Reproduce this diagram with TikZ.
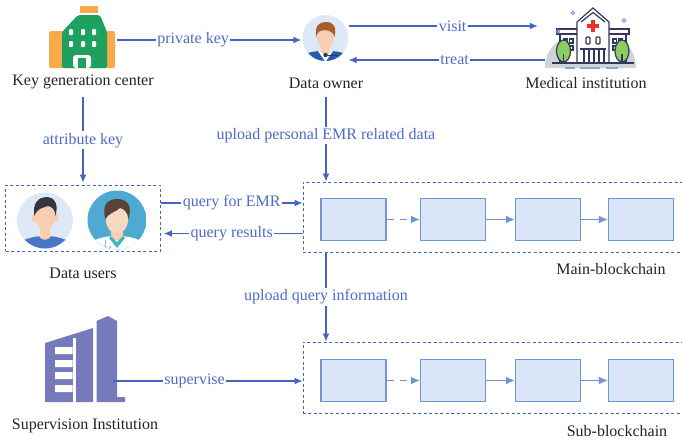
\documentclass[tikz,border=0pt]{standalone}
\usepackage{fontspec}
\setmainfont{Liberation Serif}
\usetikzlibrary{arrows.meta,positioning}

\definecolor{linkblue}{RGB}{66,100,190}
\definecolor{tagblue}{RGB}{78,108,198}
\definecolor{blockfill}{RGB}{218,230,248}
\definecolor{blockdraw}{RGB}{112,150,210}
\definecolor{captiongray}{RGB}{35,35,35}
\definecolor{kgcorange}{RGB}{248,170,75}
\definecolor{kgcgreen}{RGB}{30,160,95}
\definecolor{facebg}{RGB}{221,233,246}
\definecolor{skin}{RGB}{247,206,176}
\definecolor{hairbrown}{RGB}{168,92,42}
\definecolor{hairdark}{RGB}{52,56,62}
\definecolor{shirtblue}{RGB}{38,92,172}
\definecolor{teebue}{RGB}{72,120,196}
\definecolor{doctorbg}{RGB}{78,170,210}
\definecolor{scrubteal}{RGB}{60,185,190}
\definecolor{domegray}{RGB}{208,211,218}
\definecolor{navy}{RGB}{52,56,92}
\definecolor{crossred}{RGB}{232,50,50}
\definecolor{treegreen}{RGB}{140,205,95}
\definecolor{dotblue}{RGB}{130,130,220}
\definecolor{supervpurple}{RGB}{118,122,188}

\tikzset{
  link/.style={draw=linkblue, line width=1.3pt, -{Latex[length=8pt,width=7pt]}},
  tag/.style={fill=white, text=tagblue, inner sep=1.5pt},
  caption/.style={text=captiongray, inner sep=1pt},
  groupbox/.style={draw=linkblue, line width=0.9pt, dash pattern=on 3pt off 2.5pt, inner sep=0pt},
  block/.style={draw=blockdraw, fill=blockfill, line width=1.1pt, minimum width=65pt, minimum height=42pt, inner sep=0pt},
  chainlink/.style={draw=blockdraw, line width=1.8pt, -{Latex[length=9pt,width=8pt]}},
  icon/.style={inner sep=0pt},
}

\begin{document}
\begin{tikzpicture}[x=1pt,y=1pt,yscale=-1,font=\fontsize{16}{19}\selectfont]
\useasboundingbox (0,0) rectangle (682,442);
\clip (0,0) rectangle (682,442);

% key generation center icon
\fill[kgcorange, rounded corners=2pt] (49,31) rectangle (115,68);
\fill[kgcorange] (80,6) rectangle (98,13);
\fill[kgcgreen, rounded corners=2pt] (62,68) -- (62,32) -- (78,15) -- (100,15) -- (107,32) -- (107,68) -- cycle;
\fill[white, rounded corners=1pt] (69,29) rectangle (73,35) (81,29) rectangle (85,35) (92,29) rectangle (96,35);
\fill[white, rounded corners=1pt] (69,41) rectangle (73,47) (81,41) rectangle (85,47) (92,41) rectangle (96,47);
\fill[white, rounded corners=3pt] (73,68) -- (73,55) -- (91,55) -- (91,68) -- cycle;
\fill[kgcgreen] (78,58) rectangle (86,68);
\node[icon, minimum width=68pt, minimum height=56pt] (kgc) at (83,41) {};
\node[caption] (kgclabel) at (83,82) {Key generation center};

% data owner icon
\begin{scope}
  \clip (325.5,38) circle [radius=23];
  \fill[facebg] (325.5,38) circle [radius=23];
  \fill[skin] (321,44) rectangle (330,56);
  \fill[shirtblue] (298,66) -- (302,56) .. controls (310,51) and (318,51) .. (325.5,51) .. controls (333,51) and (341,51) .. (349,56) -- (353,66) -- cycle;
  \fill[white] (318,51) -- (325.5,62) -- (333,51) -- cycle;
  \fill[skin] (320,51) -- (325.5,57) -- (331,51) -- cycle;
\end{scope}
\fill[skin] (325.5,38) ellipse [x radius=8.5, y radius=10];
\fill[hairbrown] (316.5,37) .. controls (314,25) and (320,22) .. (326,22) .. controls (333,22) and (337,26) .. (334.5,37) .. controls (333,30) and (325,29) .. (320,31) .. controls (318,32) and (317,34) .. (316.5,37) -- cycle;
\fill[navy] (325.5,55) circle [radius=2.2];
\draw[navy, line width=0.8pt] (325.5,55) -- (338,55);
\node[icon, circle, minimum size=46pt] (owner) at (325.5,38) {};
\node[caption] (ownerlabel) at (326,83) {Data owner};

% medical institution icon
\fill[domegray] (545,68) .. controls (545,44) and (566,32) .. (590.5,32) .. controls (615,32) and (636,44) .. (636,68) -- cycle;
\begin{scope}[draw=navy, line width=1.2pt]
  \filldraw[fill=white] (560,63) rectangle (626,34);
  \filldraw[fill=white] (557,29) rectangle (629,34);
  \filldraw[fill=white] (577,63) -- (577,22) -- (593,8) -- (609,22) -- (609,63) -- cycle;
  \draw (581,22) -- (593,12.5) -- (605,22);
  \draw (564,39) rectangle (567.5,43) (569.5,39) rectangle (573,43) (564,46) rectangle (567.5,50) (569.5,46) rectangle (573,50);
  \draw (613,39) rectangle (616.5,43) (618.5,39) rectangle (622,43) (613,46) rectangle (616.5,50) (618.5,46) rectangle (622,50);
  \draw[rounded corners=1pt] (586,37) rectangle (590,44) (596,37) rectangle (600,44);
  \draw (580,49) -- (606,49);
  \draw (584,49) -- (584,63) (589,49) -- (589,63) (594,49) -- (594,63) (599,49) -- (599,63) (604,49) -- (604,63);
  \draw (552,63) -- (634,63);
  \filldraw[fill=treegreen] (563.5,51) ellipse [x radius=7, y radius=11];
  \filldraw[fill=treegreen] (622,51) ellipse [x radius=7, y radius=11];
  \draw (563.5,54) -- (563.5,63) (622,54) -- (622,63);
\end{scope}
\fill[crossred] (590.5,20) rectangle (594.5,32);
\fill[crossred] (586.5,24) rectangle (598.5,28);
\draw[linkblue!60, line width=1.2pt] (565,68) -- (575,68) (580,68) -- (600,68) (606,68) -- (618,68);
\draw[dotblue, line width=0.8pt] (573,13) circle [radius=1.8] (558,31.5) circle [radius=1.8] (624,20.5) circle [radius=1.8];
\node[icon, minimum width=91pt, minimum height=64pt] (hospital) at (590.5,37) {};
\node[caption] (hospitallabel) at (586,83) {Medical institution};

% data users
\node[groupbox, minimum width=155pt, minimum height=66pt] (users) at (83,218) {};
\begin{scope}
  \clip (45,220.5) circle [radius=28];
  \fill[facebg] (45,220.5) circle [radius=28];
  \fill[skin] (40,226) rectangle (50,240);
  \fill[teebue] (14,252) -- (18,243) .. controls (28,237) and (38,236) .. (45,236) .. controls (52,236) and (62,237) .. (72,243) -- (76,252) -- cycle;
  \fill[skin] (39,236) .. controls (41,241) and (49,241) .. (51,236) -- cycle;
\end{scope}
\fill[skin] (45,217) ellipse [x radius=10, y radius=13];
\fill[skin] (34,218) ellipse [x radius=2.5, y radius=4] (56,218) ellipse [x radius=2.5, y radius=4];
\fill[hairdark] (34.5,216) .. controls (32,203) and (39,197) .. (46,197) .. controls (54,197) and (59,203) .. (55.5,216) .. controls (55,209) and (52,207) .. (48,206) .. controls (43,208) and (37,208) .. (34.5,216) -- cycle;
\begin{scope}
  \clip (117,220) circle [radius=29.5];
  \fill[doctorbg] (117,220) circle [radius=29.5];
  \fill[white] (85,255) -- (88,244) .. controls (98,237) and (108,236) .. (117,236) .. controls (126,236) and (136,237) .. (146,244) -- (149,255) -- cycle;
  \fill[skin] (111,226) rectangle (123,240);
  \fill[scrubteal] (109,238) -- (117,248) -- (125,238) -- (123,236) -- (117,242) -- (111,236) -- cycle;
  \draw[gray, line width=0.6pt] (106,240) .. controls (103,248) and (108,252) .. (111,246);
\end{scope}
\fill[skin!80!white] (117,220) ellipse [x radius=11, y radius=13.5];
\fill[hairdark!70!hairbrown] (105.5,219) .. controls (101,204) and (109,199) .. (117,199) .. controls (126,199) and (133,204) .. (128.5,219) .. controls (128,212) and (124,209) .. (120,208) .. controls (116,212) and (110,212) .. (105.5,219) -- cycle;
\node[caption] (userslabel) at (83,273) {Data users};

% main blockchain
\node[groupbox, anchor=north west, minimum width=400pt, minimum height=70pt] (main) at (302.5,181.5) {};
\node[block] (m1) at (353.5,219.5) {};
\node[block] (m2) at (453,219.5) {};
\node[block] (m3) at (548,219.5) {};
\node[block] (m4) at (641,219.5) {};
\draw[chainlink, dash pattern=on 7pt off 6pt] (m1) -- (m2);
\draw[chainlink] (m2) -- (m3);
\draw[chainlink] (m3) -- (m4);
\node[caption] (mainlabel) at (611,269) {Main-blockchain};

% sub blockchain
\node[groupbox, anchor=north west, minimum width=400pt, minimum height=71pt] (sub) at (302.5,341.5) {};
\node[block] (s1) at (353.5,380.5) {};
\node[block] (s2) at (453,380.5) {};
\node[block] (s3) at (548,380.5) {};
\node[block] (s4) at (641,380.5) {};
\draw[chainlink, dash pattern=on 7pt off 6pt] (s1) -- (s2);
\draw[chainlink] (s2) -- (s3);
\draw[chainlink] (s3) -- (s4);
\node[caption] (sublabel) at (617,431) {Sub-blockchain};

% supervision institution icon
\fill[supervpurple] (45,402) -- (45,343) -- (93,328) -- (93,402) -- cycle;
\fill[white] (72.5,338) rectangle (75.5,402);
\fill[white] (55,347) rectangle (72.5,354) (55,360) rectangle (72.5,367) (55,372) rectangle (72.5,379) (55,385) rectangle (72.5,392);
\fill[supervpurple] (96.5,402) -- (96.5,321) -- (108,316) -- (117,321) -- (117,397) -- (125,397) -- (125,402) -- cycle;
\node[icon, minimum width=56pt, minimum height=86pt] (superv) at (85,359) {};
\node[caption] (supervlabel) at (85,426) {Supervision Institution};

% connectors
\coordinate (keyrow) at (0,40);
\coordinate (visitrow) at (0,26);
\coordinate (treatrow) at (0,60);
\coordinate (askrow) at (0,203);
\coordinate (replyrow) at (0,233.5);
\coordinate (superrow) at (0,381);
\draw[link, shorten >=1pt] (kgc.east |- keyrow) -- node[tag, pos=0.41] {private key} (owner.west |- keyrow);
\draw[link, shorten >=7pt] (owner.east |- visitrow) -- node[tag, pos=0.53] {visit} (hospital.west |- visitrow);
\draw[link] (hospital.west |- treatrow) -- node[tag, pos=0.46] {treat} (owner.east |- treatrow);
\draw[link, shorten <=7pt, shorten >=2pt] (kgclabel.south) -- node[tag, pos=0.53] {attribute key} (users.north);
\draw[link, shorten <=7pt] (ownerlabel.south) -- node[tag, pos=0.5] {upload personal EMR related data} (ownerlabel.south |- main.north);
\draw[link] (users.east |- askrow) -- node[tag] {query for EMR} (main.west |- askrow);
\draw[link, shorten >=3pt] (main.west |- replyrow) -- node[tag] {query results} (users.east |- replyrow);
\draw[link] (ownerlabel.south |- main.south) -- node[tag] {upload query information} (ownerlabel.south |- sub.north);
\draw[link] (superv.east |- superrow) -- node[tag, pos=0.43] {supervise} (sub.west |- superrow);
\end{tikzpicture}
\end{document}
